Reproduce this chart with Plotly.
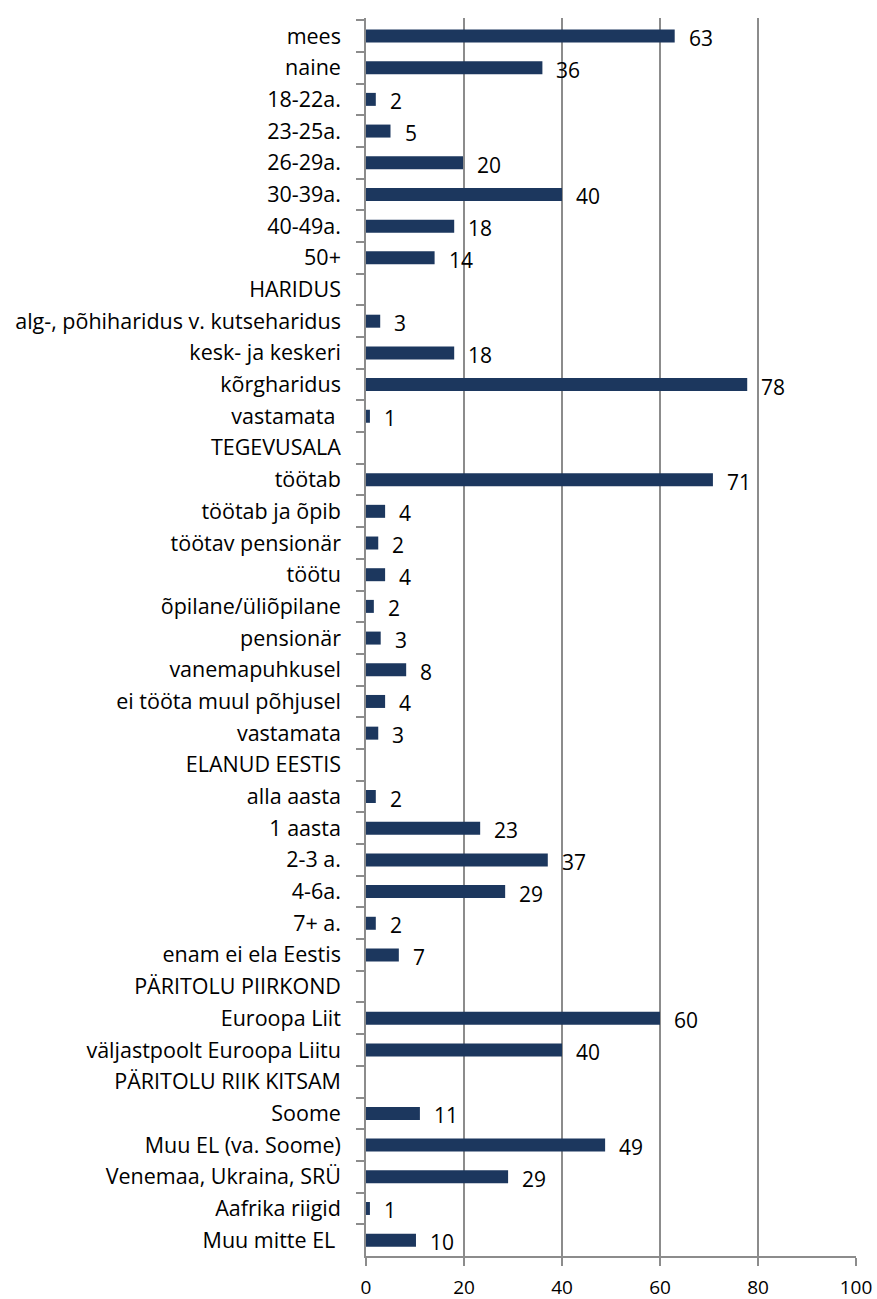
import plotly.graph_objects as go

# categories top -> bottom, None = section header row (no bar)
categories = [
    "mees", "naine", "18-22a.", "23-25a.", "26-29a.", "30-39a.", "40-49a.", "50+",
    "HARIDUS", "alg-, põhiharidus v. kutseharidus", "kesk- ja keskeri", "kõrgharidus", "vastamata ",
    "TEGEVUSALA", "töötab", "töötab ja õpib", "töötav pensionär", "töötu", "õpilane/üliõpilane",
    "pensionär", "vanemapuhkusel", "ei tööta muul põhjusel", "vastamata",
    "ELANUD EESTIS", "alla aasta", "1 aasta", "2-3 a.", "4-6a.", "7+ a.", "enam ei ela Eestis",
    "PÄRITOLU PIIRKOND", "Euroopa Liit", "väljastpoolt Euroopa Liitu",
    "PÄRITOLU RIIK KITSAM", "Soome", "Muu EL (va. Soome)", "Venemaa, Ukraina, SRÜ",
    "Aafrika riigid", "Muu mitte EL ",
]
values = [
    63, 36, 2, 5, 19.8, 40, 18, 14,
    None, 2.9, 18, 77.8, 0.8,
    None, 70.8, 3.9, 2.5, 3.9, 1.6,
    3, 8.2, 3.9, 2.5,
    None, 2, 23.3, 37.1, 28.4, 2, 6.7,
    None, 60, 40,
    None, 11, 48.8, 29,
    0.8, 10.2,
]
labels = [
    "63", "36", "2", "5", "20", "40", "18", "14",
    "", "3", "18", "78", "1",
    "", "71", "4", "2", "4", "2",
    "3", "8", "4", "3",
    "", "2", "23", "37", "29", "2", "7",
    "", "60", "40",
    "", "11", "49", "29",
    "1", "10",
]
x_ticks = [0, 20, 40, 60, 80, 100]

FONT = "Open Sans"
BAR = "#1c375e"
GREY = "#8c8c8c"

fig = go.Figure()
fig.add_trace(go.Bar(
    y=categories, x=values, orientation="h",
    marker=dict(color=BAR, line=dict(width=0)),
    width=0.41, hoverinfo="skip",
))

# value labels to the right of each bar
for cat, v, lab in zip(categories, values, labels):
    if v is None:
        continue
    fig.add_annotation(x=v, y=cat, text=lab, showarrow=False,
                       xanchor="left", xshift=12, yshift=-2,
                       font=dict(family=FONT, size=21, color="black"))

fig.update_layout(
    width=877, height=1299,
    margin=dict(l=366, r=21, t=18, b=43),
    plot_bgcolor="white", paper_bgcolor="white",
    showlegend=False,
    font=dict(family=FONT, size=19, color="black"),
    xaxis=dict(range=[0, 100], tickvals=x_ticks, showgrid=True, gridcolor=GREY, gridwidth=1.5,
               zeroline=False, showline=True, linecolor=GREY, linewidth=1.5,
               ticks="outside", ticklen=8, tickcolor=GREY, tickwidth=1.5, automargin=False,
               tickfont=dict(family=FONT, size=19), ticklabelstandoff=5),
    yaxis=dict(type="category", categoryorder="array", categoryarray=categories,
               autorange="reversed", showgrid=False, zeroline=False,
               showline=True, linecolor=GREY, linewidth=1.5, automargin=False,
               ticks="outside", ticklen=8, tickcolor=GREY, tickwidth=1.5,
               tickson="boundaries", tickfont=dict(family=FONT, size=21.5),
               ticklabelstandoff=19),
)

# drop the default 8px body margin so the figure fills the window exactly
fig.write_html("out.html", config={"displayModeBar": False},
               post_script="document.body.style.margin='0';")
